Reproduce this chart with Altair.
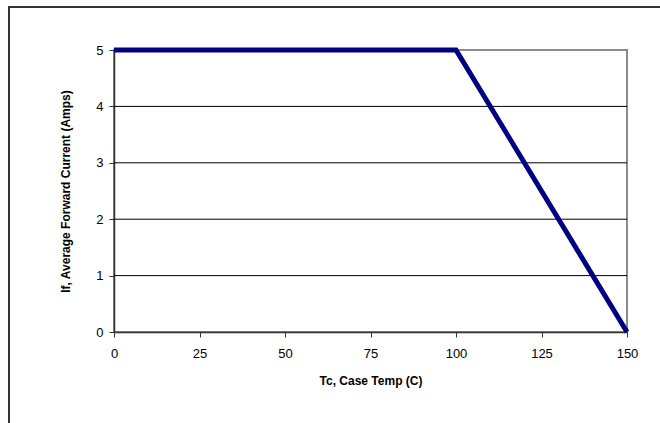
import altair as alt
import pandas as pd

# Data
temps = [0, 100, 150]
currents = [5, 5, 0]
x_ticks = [0, 25, 50, 75, 100, 125, 150]
y_ticks = [0, 1, 2, 3, 4, 5]
grid_levels = [1, 2, 3, 4]

line_df = pd.DataFrame({"Tc": temps, "If": currents})
grid_df = pd.DataFrame({"g": grid_levels})

FONT = "Liberation Sans"
W, H = 513, 282
PAD_L, PAD_T = 114, 50

xscale = alt.Scale(domain=[0, 150], nice=False, zero=False)
yscale = alt.Scale(domain=[0, 5], nice=False)

yaxis = alt.Axis(
    values=y_ticks,
    title="If, Average Forward Current (Amps)",
    grid=False,
    tickSize=5,
    labelPadding=6,
    titlePadding=23,
    labelFlush=False,
)
xaxis = alt.Axis(
    values=x_ticks,
    title="Tc, Case Temp (C)",
    grid=False,
    tickSize=5,
    labelPadding=10,
    titlePadding=15,
    labelFlush=False,
)

grid = alt.Chart(grid_df).mark_rule(color="#000000", strokeWidth=1).encode(
    y=alt.Y("g:Q", scale=yscale, axis=yaxis, title="If, Average Forward Current (Amps)")
)

line = alt.Chart(line_df).mark_line(color="#000080", strokeWidth=5, strokeCap="butt", strokeJoin="miter", clip=False).encode(
    x=alt.X("Tc:Q", scale=xscale, axis=xaxis),
    y=alt.Y("If:Q", scale=yscale, axis=yaxis),
)

frame_top = alt.Chart(grid_df).mark_rule(color="#333333", strokeWidth=2, clip=False).encode(
    x=alt.value(-105), x2=alt.value(560), y=alt.value(-43)
)
frame_left = alt.Chart(grid_df).mark_rule(color="#333333", strokeWidth=2, clip=False).encode(
    x=alt.value(-105), y=alt.value(-44), y2=alt.value(390)
)

chart = alt.layer(frame_top, frame_left, grid, line).properties(
    width=W,
    height=H,
    padding={"left": PAD_L, "top": PAD_T, "right": 660 - PAD_L - W, "bottom": 423 - PAD_T - H},
    autosize=alt.AutoSizeParams(type="none"),
    background="#ffffff",
).configure_view(
    stroke="#8c8c8c", strokeWidth=2
).configure_axis(
    labelFont=FONT,
    titleFont=FONT,
    labelFontSize=13,
    titleFontSize=12,
    titleFontWeight="bold",
    labelColor="#000000",
    titleColor="#000000",
    domainColor="#333333",
    domainWidth=1.5,
    tickColor="#333333",
    tickWidth=1,
)

chart.save("out.html", embed_options={"renderer": "svg", "actions": False})
